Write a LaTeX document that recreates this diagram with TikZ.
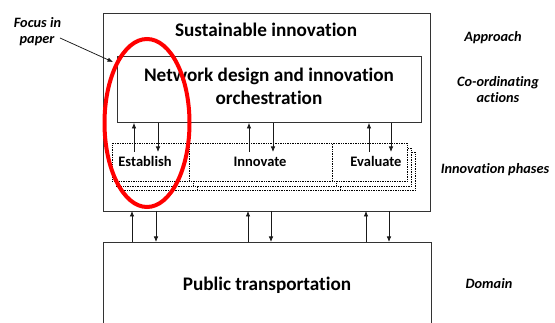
\documentclass[tikz,border=0pt]{standalone}
\usepackage{fontspec}
\setmainfont{Carlito}[Ligatures={NoCommon,NoRare,NoContextual}]
\usetikzlibrary{arrows.meta,calc}
\begin{document}
\begin{tikzpicture}[x=1pt,y=-1pt,
  box/.style={draw=black!80, line width=0.9pt, fill=white, inner sep=0pt, anchor=north west},
  phase/.style={draw=black, densely dotted, fill=white, line width=0.7pt, inner sep=0pt, anchor=north west, minimum height=38pt},
  arr/.style={-{Latex[length=5.5pt,width=4.5pt]}, line width=0.75pt, draw=black!90},
  big/.style={font=\fontsize{19.2}{23}\selectfont\bfseries, anchor=base, align=center},
  ph/.style={font=\fontsize{14.5}{17}\selectfont\bfseries, anchor=base},
  side/.style={font=\fontsize{14.3}{16}\selectfont\bfseries\itshape, anchor=base, align=center},
]
\useasboundingbox (0,0) rectangle (555,323);
% outer boxes
\node[box, minimum width=327pt, minimum height=198pt] (outer) at (103,13) {};
\node[box, minimum width=328pt, minimum height=100pt] (pub) at (103,242) {};
\node[box, minimum width=304pt, minimum height=66pt] (net) at (117,56) {};
% texts
\node[big] (sust) at (266,37) {Sustainable innovation};
\node[big] (nett) at (269,82) {Network design and innovation};
\node[big] (orch) at (269,105) {orchestration};
\node[big] (pubt) at (267,291) {Public transportation};
% phases with shadows
\foreach \nm/\x/\w in {est/112/77, inn/189/143, eva/332/75}{
  \node[phase, minimum width=\w pt] (\nm s2) at (\x+8,143+9) {};
  \node[phase, minimum width=\w pt] (\nm s1) at (\x+4,143+5) {};
  \node[phase, minimum width=\w pt] (\nm) at (\x,143) {};
}
\node[ph] (estt) at (145,167) {Establish};
\node[ph] (innt) at (260,167) {Innovate};
\node[ph] (evat) at (376,167) {Evaluate};
% arrows net <-> phases
\foreach \n/\xu/\xd in {1/134/158, 2/249/273, 3/369/391}{
  \coordinate (pu\n) at (\xu,152);
  \coordinate (pd\n) at (\xd,152);
  \draw[arr] (pu\n) -- (pu\n |- net.south);
  \draw[arr] (pd\n |- net.south) -- (pd\n);
}
% arrows outer <-> public
\foreach \n/\xu/\xd in {1/132/156, 2/248/271, 3/366/389}{
  \coordinate (qu\n) at (\xu,211);
  \coordinate (qd\n) at (\xd,211);
  \draw[arr] (qu\n |- pub.north) -- (qu\n);
  \draw[arr] (qd\n) -- (qd\n |- pub.north);
}
% side labels
\node[side] (appr) at (493,42) {Approach};
\node[side] (coor) at (498,87) {Co-ordinating};
\node[side] (acti) at (498,103) {actions};
\node[side] (phs) at (495,174) {Innovation phases};
\node[side] (dom) at (489,289) {Domain};
\node[side] (foc1) at (37.5,28) {Focus in};
\node[side] (foc2) at (37,44) {paper};
\coordinate (focend) at (113,62);
\draw[arr] (60,38) -- (focend);
% red ellipse
\draw[red, line width=4pt] (147,123) ellipse [x radius=42.5, y radius=84];
\end{tikzpicture}
\end{document}
